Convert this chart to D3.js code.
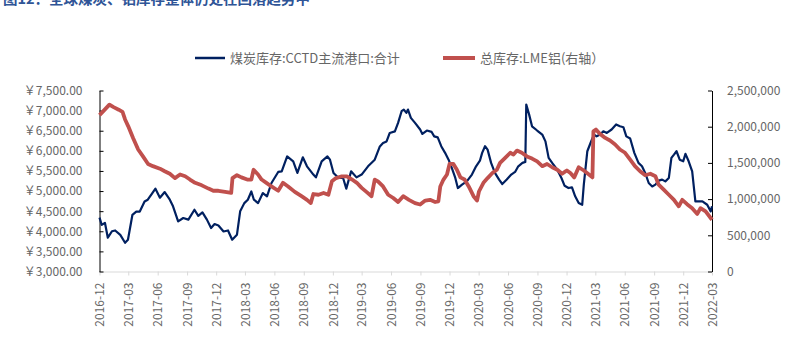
<!DOCTYPE html>
<html>
<head>
<meta charset="utf-8">
<script src="https://cdn.jsdelivr.net/npm/d3@7"></script>
<style>
body { margin: 0; background: #fff; }
text { font-family: "Noto Sans CJK SC", "Noto Sans", sans-serif; }
.tick text { fill: #666; font-size: 12px; }
.legend-text { fill: #666; font-size: 13px; }
</style>
</head>
<body>
<div id="chart"></div>
<script>
// coal stock, CCTD main ports (left axis, yuan-formatted)
var coalDates = ["2016-12-01","2016-12-08","2016-12-18","2016-12-27","2017-01-09","2017-01-19","2017-02-04","2017-02-19","2017-02-28","2017-03-14","2017-03-26","2017-04-06","2017-04-21","2017-05-01","2017-05-12","2017-05-25","2017-06-08","2017-06-23","2017-07-09","2017-07-19","2017-08-04","2017-08-20","2017-09-05","2017-09-24","2017-10-06","2017-10-19","2017-11-02","2017-11-15","2017-11-26","2017-12-08","2017-12-24","2018-01-07","2018-01-20","2018-02-04","2018-02-14","2018-02-27","2018-03-10","2018-03-21","2018-03-29","2018-04-11","2018-04-26","2018-05-09","2018-05-23","2018-06-13","2018-06-24","2018-07-11","2018-07-30","2018-08-12","2018-08-29","2018-09-11","2018-10-01","2018-10-09","2018-10-27","2018-11-14","2018-11-22","2018-12-03","2018-12-19","2019-01-02","2019-01-12","2019-01-27","2019-02-13","2019-03-01","2019-03-21","2019-04-11","2019-04-27","2019-05-07","2019-05-18","2019-05-28","2019-06-13","2019-06-23","2019-07-04","2019-07-11","2019-07-19","2019-07-24","2019-08-02","2019-08-15","2019-08-31","2019-09-07","2019-09-21","2019-10-06","2019-10-14","2019-10-25","2019-11-05","2019-11-17","2019-11-28","2019-12-08","2019-12-19","2019-12-27","2020-01-09","2020-01-24","2020-02-09","2020-02-22","2020-03-05","2020-03-12","2020-03-21","2020-03-29","2020-04-09","2020-04-21","2020-05-04","2020-05-14","2020-05-28","2020-06-11","2020-06-23","2020-07-03","2020-07-16","2020-07-25","2020-07-28","2020-08-06","2020-08-15","2020-08-31","2020-09-16","2020-09-26","2020-10-06","2020-10-17","2020-11-02","2020-11-15","2020-11-25","2020-12-07","2020-12-18","2020-12-28","2021-01-08","2021-01-19","2021-01-24","2021-02-04","2021-02-14","2021-02-25","2021-03-05","2021-03-16","2021-03-26","2021-04-06","2021-04-21","2021-05-05","2021-05-17","2021-05-28","2021-06-06","2021-06-18","2021-07-01","2021-07-14","2021-07-25","2021-08-04","2021-08-15","2021-08-26","2021-09-05","2021-09-15","2021-09-26","2021-10-06","2021-10-17","2021-10-25","2021-11-02","2021-11-10","2021-11-20","2021-12-01","2021-12-08","2021-12-18","2021-12-29","2022-01-08","2022-01-19","2022-01-30","2022-02-14","2022-02-25","2022-03-01"];
var coalValues = [4340,4160,4210,3840,4000,4020,3910,3715,3790,4410,4490,4490,4740,4785,4910,5060,4835,4975,4785,4620,4245,4330,4290,4535,4385,4470,4290,4080,4180,4145,3995,4020,3790,3915,4495,4700,4785,4990,4785,4700,4950,4870,5200,5475,5490,5860,5740,5450,5840,5615,5410,5340,5740,5860,5780,5450,5325,5325,5060,5490,5340,5410,5615,5780,6110,6195,6235,6445,6485,6695,6985,7025,6945,7025,6820,6695,6530,6420,6505,6470,6360,6335,6115,5950,5780,5575,5325,5075,5160,5240,5410,5615,5755,5950,6115,6030,5700,5450,5285,5175,5285,5410,5475,5615,5700,5725,7150,6900,6610,6505,6405,6235,5825,5700,5530,5325,5130,5075,5090,4870,4705,4660,5160,5990,6195,6405,6360,6405,6485,6445,6530,6655,6610,6585,6360,6305,5950,5700,5615,5450,5200,5115,5160,5260,5285,5240,5325,5825,5905,5990,5780,5740,5925,5740,5490,4745,4745,4745,4660,4495,4620];

// LME aluminium total stock (right axis, tonnes)
var alumDates = ["2016-12-01","2016-12-13","2017-01-01","2017-01-14","2017-01-30","2017-02-11","2017-02-19","2017-03-01","2017-03-16","2017-04-01","2017-04-16","2017-05-02","2017-05-17","2017-06-08","2017-06-23","2017-07-09","2017-07-25","2017-08-10","2017-08-26","2017-09-10","2017-09-26","2017-10-17","2017-11-07","2017-11-22","2017-12-08","2017-12-29","2018-01-17","2018-01-21","2018-02-04","2018-02-18","2018-03-08","2018-03-21","2018-03-28","2018-04-11","2018-04-22","2018-05-07","2018-05-23","2018-06-13","2018-06-28","2018-07-14","2018-08-04","2018-08-25","2018-09-11","2018-09-23","2018-10-01","2018-10-17","2018-11-02","2018-11-17","2018-11-28","2018-12-11","2018-12-29","2019-01-14","2019-01-30","2019-02-14","2019-03-01","2019-03-16","2019-04-01","2019-04-11","2019-04-21","2019-05-07","2019-05-23","2019-06-08","2019-06-23","2019-07-09","2019-07-27","2019-08-15","2019-08-31","2019-09-16","2019-10-01","2019-10-17","2019-10-27","2019-11-02","2019-11-12","2019-11-23","2019-12-01","2019-12-13","2019-12-24","2020-01-04","2020-01-17","2020-01-30","2020-02-14","2020-02-25","2020-03-02","2020-03-16","2020-03-29","2020-04-13","2020-04-27","2020-05-07","2020-05-23","2020-06-08","2020-06-18","2020-06-29","2020-07-14","2020-07-30","2020-08-15","2020-08-31","2020-09-16","2020-10-01","2020-10-17","2020-11-02","2020-11-17","2020-11-25","2020-12-02","2020-12-13","2020-12-25","2021-01-08","2021-01-24","2021-02-09","2021-02-20","2021-02-23","2021-03-03","2021-03-16","2021-04-01","2021-04-16","2021-05-02","2021-05-17","2021-06-02","2021-06-18","2021-07-03","2021-07-19","2021-08-04","2021-08-20","2021-09-05","2021-09-15","2021-10-01","2021-10-17","2021-11-02","2021-11-17","2021-11-28","2021-12-13","2021-12-29","2022-01-14","2022-01-24","2022-02-09","2022-03-01"];
var alumValues = [2160000,2215000,2305000,2270000,2235000,2205000,2100000,2005000,1845000,1685000,1590000,1485000,1455000,1420000,1385000,1350000,1290000,1340000,1315000,1270000,1225000,1190000,1145000,1115000,1115000,1100000,1085000,1290000,1330000,1300000,1270000,1270000,1405000,1340000,1270000,1225000,1175000,1115000,1225000,1175000,1100000,1040000,990000,945000,1070000,1060000,1085000,1060000,1245000,1290000,1315000,1315000,1270000,1225000,1155000,1100000,1040000,1270000,1245000,1175000,1060000,1015000,960000,1040000,990000,945000,925000,980000,990000,960000,970000,1175000,1270000,1340000,1485000,1485000,1405000,1300000,1270000,1175000,1040000,980000,1105000,1225000,1290000,1360000,1405000,1500000,1570000,1640000,1615000,1670000,1640000,1590000,1560000,1520000,1455000,1485000,1440000,1405000,1350000,1375000,1395000,1360000,1300000,1440000,1395000,1340000,1300000,1935000,1960000,1900000,1845000,1810000,1755000,1685000,1640000,1545000,1455000,1385000,1330000,1350000,1315000,1200000,1130000,1060000,990000,900000,990000,930000,875000,795000,875000,830000,715000];

var xTicks = ["2016-12","2017-03","2017-06","2017-09","2017-12","2018-03","2018-06","2018-09","2018-12","2019-03","2019-06","2019-09","2019-12","2020-03","2020-06","2020-09","2020-12","2021-03","2021-06","2021-09","2021-12","2022-03"];
var leftTicks = [3000,3500,4000,4500,5000,5500,6000,6500,7000,7500];
var rightTicks = [0,500000,1000000,1500000,2000000,2500000];
var seriesNames = ["煤炭库存:CCTD主流港口:合计", "总库存:LME铝(右轴）"];
var titleText = "图12：全球煤炭、铝库存整体仍处在回落趋势中";

var width = 791, height = 351;
var plotLeft = 99.5, plotRight = 712, plotTop = 90.5, plotBottom = 271.5;

var parseDay = d3.timeParse("%Y-%m-%d");
var parseMonth = d3.timeParse("%Y-%m");

var coal = coalDates.map(function(d, i) { return {date: parseDay(d), value: coalValues[i]}; });
var alum = alumDates.map(function(d, i) { return {date: parseDay(d), value: alumValues[i]}; });

var svg = d3.select("#chart").append("svg")
	.attr("width", width)
	.attr("height", height);

var x = d3.scaleTime()
	.domain([parseMonth("2016-12"), parseMonth("2022-03")])
	.range([plotLeft, plotRight]);

var yLeft = d3.scaleLinear().domain([3000, 7500]).range([plotBottom, plotTop]);
var yRight = d3.scaleLinear().domain([0, 2500000]).range([plotBottom, plotTop]);

// title (cut off at the top in the source)
svg.append("text")
	.attr("x", 3)
	.attr("y", 4)
	.attr("fill", "#2f5597")
	.attr("font-size", "14.5px")
	.attr("font-weight", "bold")
	.text(titleText);

// x axis
var gx = svg.append("g")
	.attr("transform", "translate(0," + plotBottom + ")")
	.call(d3.axisBottom(x)
		.tickValues(xTicks.map(parseMonth))
		.tickFormat(d3.timeFormat("%Y-%m"))
		.tickSizeInner(4)
		.tickSizeOuter(0));
gx.select(".domain").attr("stroke", "#d9d9d9");
gx.selectAll(".tick line").attr("stroke", "#d9d9d9");
gx.selectAll(".tick text")
	.attr("transform", "rotate(-90)")
	.attr("text-anchor", "end")
	.attr("x", -11)
	.attr("y", 0)
	.attr("dy", "0.35em");

// left axis
var yenFormat = d3.format(",.2f");
var gl = svg.append("g")
	.attr("transform", "translate(" + plotLeft + ",0)")
	.call(d3.axisLeft(yLeft)
		.tickValues(leftTicks)
		.tickFormat(function(d) { return "￥" + yenFormat(d); })
		.tickSizeInner(-4)
		.tickSizeOuter(0)
		.tickPadding(17));
gl.select(".domain").attr("stroke", "#000");
gl.selectAll(".tick line").attr("stroke", "#000");

// right axis
var gr = svg.append("g")
	.attr("transform", "translate(" + plotRight + ",0)")
	.call(d3.axisRight(yRight)
		.tickValues(rightTicks)
		.tickFormat(d3.format(","))
		.tickSizeInner(-4)
		.tickSizeOuter(0)
		.tickPadding(15));
gr.select(".domain").attr("stroke", "#000");
gr.selectAll(".tick line").attr("stroke", "#000");

svg.selectAll("g").attr("font-family", null).attr("font-size", null);

// lines
var lineCoal = d3.line()
	.x(function(d) { return x(d.date); })
	.y(function(d) { return yLeft(d.value); });

var lineAlum = d3.line()
	.x(function(d) { return x(d.date); })
	.y(function(d) { return yRight(d.value); });

svg.append("path")
	.datum(coal)
	.attr("fill", "none")
	.attr("stroke", "#002060")
	.attr("stroke-width", 2.2)
	.attr("stroke-linejoin", "round")
	.attr("d", lineCoal);

svg.append("path")
	.datum(alum)
	.attr("fill", "none")
	.attr("stroke", "#c0504d")
	.attr("stroke-width", 3.8)
	.attr("stroke-linejoin", "round")
	.attr("d", lineAlum);

// legend
var legendItems = [
	{name: seriesNames[0], color: "#002060", w: 2.5, x1: 195, x2: 225},
	{name: seriesNames[1], color: "#c0504d", w: 4, x1: 443, x2: 475}
];

var gLegend = svg.selectAll(".legend")
	.data(legendItems)
	.enter().append("g")
		.attr("class", "legend");

gLegend.append("line")
	.attr("x1", function(d) { return d.x1; })
	.attr("x2", function(d) { return d.x2; })
	.attr("y1", 58)
	.attr("y2", 58)
	.attr("stroke", function(d) { return d.color; })
	.attr("stroke-width", function(d) { return d.w; });

gLegend.append("text")
	.attr("class", "legend-text")
	.attr("x", function(d) { return d.x2 + 5; })
	.attr("y", 58)
	.attr("dy", "0.36em")
	.text(function(d) { return d.name; });
</script>
</body>
</html>
